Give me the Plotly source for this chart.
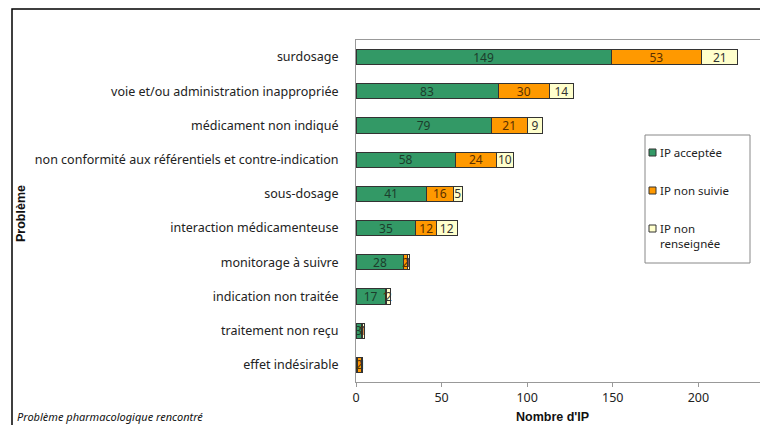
import plotly.graph_objects as go

categories = ["surdosage", "voie et/ou administration inappropriée", "médicament non indiqué",
              "non conformité aux référentiels et contre-indication", "sous-dosage",
              "interaction médicamenteuse", "monitorage à suivre", "indication non traitée",
              "traitement non reçu", "effet indésirable"]
acceptee = [149, 83, 79, 58, 41, 35, 28, 17, 3, 1]
non_suivie = [53, 30, 21, 24, 16, 12, 2, 1, 1, 2]
non_renseignee = [21, 14, 9, 10, 5, 12, 1, 2, 1, 1]

series_names = ["IP acceptée", "IP non suivie", "IP non<br>renseignée"]
series = [(series_names[0], acceptee, "#339966", "#1c3d2c"),
          (series_names[1], non_suivie, "#FF9900", "#5a3000"),
          (series_names[2], non_renseignee, "#FFFFCC", "#333333")]

FONT = "Noto Sans"
fig = go.Figure()
for name, vals, col, tcol in series:
    fig.add_trace(go.Bar(
        y=categories, x=vals, name=name, orientation="h", showlegend=False,
        marker=dict(color=col, line=dict(color="#333333", width=1)),
        text=[str(v) for v in vals], textposition="inside", insidetextanchor="middle",
        textangle=0, textfont=dict(family=FONT, size=12, color=tcol), constraintext="none",
    ))

W, H = 760, 425
ml, mr, mt, mb = 356, 0, 40, 43
pw, ph = W - ml - mr, H - mt - mb

def px(x):
    return (x - ml) / pw

def py(y):
    return (H - mb - y) / ph

fig.update_layout(
    width=W, height=H, barmode="stack", bargap=0.56,
    margin=dict(l=ml, r=mr, t=mt, b=mb),
    paper_bgcolor="white", plot_bgcolor="white",
    font=dict(family=FONT, size=12, color="#222222"),
    uniformtext=dict(minsize=12, mode="show"),
    xaxis=dict(range=[0, 236], tickvals=[0, 50, 100, 150, 200], showgrid=False, zeroline=False,
               showline=True, linecolor="#999999", linewidth=1, mirror=True,
               ticks="outside", ticklen=4, tickcolor="#999999",
               tickfont=dict(family=FONT, size=12.5, color="#222222")),
    yaxis=dict(autorange="reversed", showgrid=False, showline=True, linecolor="#999999",
               linewidth=1, ticks="", ticklabelstandoff=14,
               tickfont=dict(family=FONT, size=12.5, color="#222222")),
    showlegend=False,
)

# outer frame
fig.add_shape(type="rect", xref="paper", yref="paper",
              x0=px(12), x1=px(800), y0=py(470), y1=py(9),
              line=dict(color="#000000", width=1.5), fillcolor="rgba(0,0,0,0)", layer="below")

# legend box (manual)
fig.add_shape(type="rect", xref="paper", yref="paper",
              x0=px(645), x1=px(750), y0=py(263), y1=py(135),
              line=dict(color="#888888", width=1), fillcolor="white", layer="above")
leg_y = [152, 190, 228]
for (name, vals, col, tcol), ly in zip(series, leg_y):
    fig.add_shape(type="rect", xref="paper", yref="paper",
                  x0=px(649), x1=px(656), y0=py(ly + 4), y1=py(ly - 3),
                  line=dict(color="#333333", width=1), fillcolor=col, layer="above")
    fig.add_annotation(text=name, xref="paper", yref="paper", x=px(658), y=py(ly - 9),
                       xanchor="left", yanchor="top", align="left", showarrow=False,
                       font=dict(family=FONT, size=11.5, color="#222222"))

fig.add_annotation(text="<b>Problème</b>", xref="paper", yref="paper", x=px(21), y=py(214),
                   xanchor="center", yanchor="middle",
                   textangle=-90, showarrow=False, font=dict(family="Liberation Sans", size=12.5, color="#111111"))
fig.add_annotation(text="<b>Nombre d'IP</b>", xref="paper", yref="paper", x=px(552), y=py(417),
                   xanchor="center", yanchor="middle",
                   showarrow=False, font=dict(family="Liberation Sans", size=12.5, color="#111111"))
fig.add_annotation(text="<i>Problème pharmacologique rencontré</i>", xref="paper", yref="paper",
                   x=px(15), y=py(416), xanchor="left", yanchor="middle", showarrow=False,
                   font=dict(family=FONT, size=11, color="#111111"))

fig.write_html("out.html", config={"displayModeBar": False},
               post_script="document.body.style.margin='0';document.body.style.overflow='hidden';")
